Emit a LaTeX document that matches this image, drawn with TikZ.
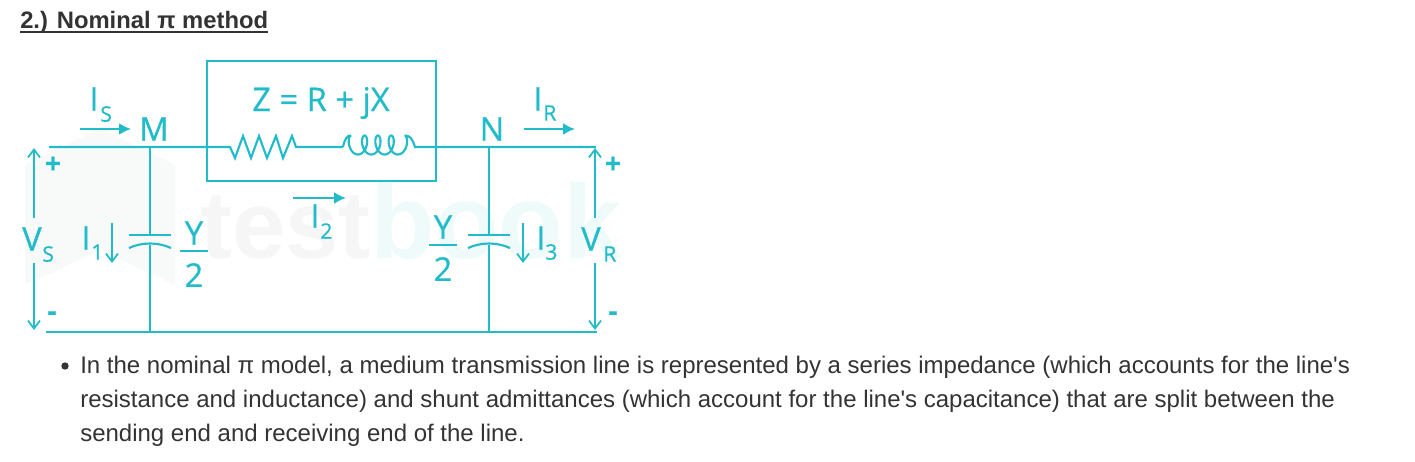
\documentclass[tikz,border=0pt]{standalone}
\usepackage{fontspec}
\setmainfont{Liberation Sans}
\newfontfamily\diagfont[FakeBold=0.6]{Open Sans}
\usetikzlibrary{decorations.pathmorphing,arrows.meta}
\definecolor{wirecol}{HTML}{22BBCA}
\definecolor{bodycol}{HTML}{333333}
\tikzset{
    wire/.style={draw=wirecol,line width=1.6pt},
    thinwire/.style={draw=wirecol,line width=1.3pt,-{Straight Barb[length=6pt,width=9pt]}},
    curr/.style={draw=wirecol,line width=1.6pt,-{Latex[length=9pt,width=9pt]}},
    lab/.style={text=wirecol,inner sep=0pt,font=\diagfont\fontsize{24.5}{24.5}\selectfont},
    sublab/.style={text=wirecol,inner sep=0pt,anchor=west,font=\diagfont\fontsize{16}{16}\selectfont},
    sgn/.style={text=wirecol,inner sep=0pt,font=\diagfont\bfseries\fontsize{21}{21}\selectfont},
    wmark/.style={inner sep=0pt,anchor=base west,font=\bfseries\fontsize{72}{72}\selectfont},
    body/.style={text=bodycol,inner sep=0pt,anchor=base west,font=\fontsize{18}{20}\selectfont}
}
\begin{document}
\begin{tikzpicture}[x=0.75pt,y=-0.75pt]
    \useasboundingbox (0,0) rectangle (1415,461);
    % faint watermark
    \fill[wirecol!3!gray!5] (25,165)--(100,128)--(175,165)--(175,285)--(100,250)--(25,285)--cycle;
    \node[wmark,text=gray!7] (wmA) at (200,258) {test};
    \node[wmark,text=wirecol!7,font=\bfseries\fontsize{79}{79}\selectfont] (wmB) at (370,258) {book};

    % heading and text
    \node[body,font=\bfseries\fontsize{17.85}{20}\selectfont] (head) at (20,28) {2.) Nominal π method};
    \draw[bodycol,line width=1.4pt] ([yshift=-3]head.base west)--([yshift=-3]head.base east);
    \fill[bodycol] (65,366) circle (3.7);
    \node[body] (lineA) at (80,373) {In the nominal π model, a medium transmission line is represented by a series impedance (which accounts for the line\textquotesingle s};
    \node[body] (lineB) at (80,407) {resistance and inductance) and shunt admittances (which account for the line\textquotesingle s capacitance) that are split between the};
    \node[body] (lineC) at (80,441) {sending end and receiving end of the line.};

    % circuit points
    \coordinate (topL) at (49,147);
    \coordinate (M) at (150,147);
    \coordinate (Ra) at (230,147);
    \coordinate (Rb) at (296,147);
    \coordinate (La) at (343,147);
    \coordinate (Lb) at (415,147);
    \coordinate (N) at (489,147);
    \coordinate (topR) at (596,147);
    \coordinate (botL) at (46,332);
    \coordinate (botM) at (150,332);
    \coordinate (botN) at (489,332);
    \coordinate (botR) at (597,332);

    \draw[wire] (207,61) rectangle (436,181);
    \draw[wire] (topL)--(M)--(Ra)--(235,158)--(243,136)--(251,158)--(259,136)--(267,158)--(276,136)--(283,158)--(292,136)--(Rb)--(La);
    \draw[wire] (La) .. controls (345,138) and (347,135.5) .. (351.3,135.5)
        --plot[domain=0:1440,samples=160,smooth,variable=\t] ({351.3+\t/360*13.3-5.5*sin(\t)},{145-9.5*cos(\t)})
        .. controls (410,135.5) and (412,138) .. (Lb)--(N)--(topR);
    \draw[wire] (botL)--(botM)--(botN)--(botR);

    % the two shunt branches
    \foreach \nd/\bt/\x in {M/botM/150,N/botN/489}{
        \coordinate (\nd capA) at (\x,235);
        \coordinate (\nd capB) at (\x,245);
        \draw[wire] (\nd)--(\nd capA);
        \draw[wire] (\nd capB)--(\bt);
        \draw[wire] (\x-21,235)--(\x+21,235);
        \draw[wire] (\x-21,248) .. controls (\x-8,242) and (\x+8,242) .. (\x+21,248);
    }

    % Y/2 labels
    \foreach \nm/\x/\yy in {p/194/233,q/443/227}{
        \node[lab] (Y\nm) at (\x,\yy) {Y};
        \node[lab] (two\nm) at (\x,\yy+42) {2};
        \draw[wire] (\x-14,\yy+18)--(\x+14,\yy+18);
    }

    % voltage arrows
    \node[lab] (Vs) at (32,239) {V};
    \node[sublab] (VsS) at (42,254) {S};
    \node[lab] (Vr) at (591,239) {V};
    \node[sublab] (VrR) at (603,254) {R};
    \foreach \x in {34,595}{
        \draw[thinwire] (\x,218)--(\x,148);
        \draw[thinwire] (\x,263)--(\x,330);
    }
    \node[sgn] (plusL) at (53,165) {+};
    \node[sgn] (plusR) at (613,165) {+};
    \node[sgn] (minusL) at (52,316) {-};
    \node[sgn] (minusR) at (613,316) {-};

    % current arrows
    \draw[curr] (80,129)--(131,129);
    \draw[curr] (524,129)--(575,129);
    \draw[curr] (293,198)--(346,198);
    \draw[thinwire] (112,223)--(112,263);
    \draw[thinwire] (523,223)--(523,263);

    % labels
    \node[lab] (lbM) at (154,129) {M};
    \node[lab] (lbN) at (492,129) {N};
    \node[lab] (lbZ) at (321,103) {Z = R + jX};
    \node[lab] (Is) at (94,99) {I};
    \node[sublab] (IsS) at (100,114) {S};
    \node[lab] (Ir) at (538,99) {I};
    \node[sublab] (IrR) at (543,113) {R};
    \node[lab] (Itwo) at (315,216) {I};
    \node[sublab] (ItwoS) at (320,231) {2};
    \node[lab] (Ione) at (86,238) {I};
    \node[sublab] (IoneS) at (91,252) {1};
    \node[lab] (Ithree) at (541,238) {I};
    \node[sublab] (IthreeS) at (545,252) {3};
\end{tikzpicture}
\end{document}
